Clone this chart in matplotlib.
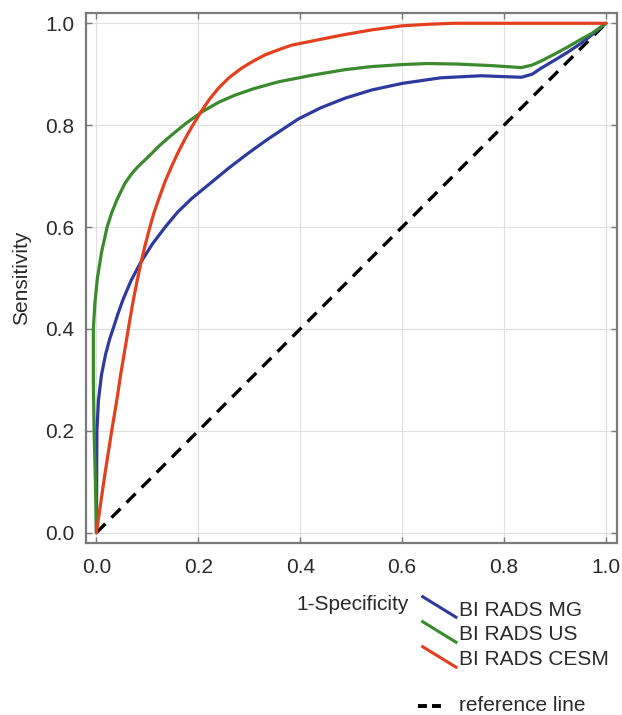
import matplotlib
matplotlib.use("Agg")
import matplotlib.pyplot as plt
from matplotlib.lines import Line2D

plt.rcParams['font.family'] = ['Liberation Sans', 'DejaVu Sans']

# ---- data ----
mg_x = [0.0, 0.0005, 0.001, 0.004, 0.010, 0.018, 0.026, 0.033, 0.042, 0.052, 0.068,
        0.086, 0.110, 0.135, 0.160, 0.187, 0.226, 0.260, 0.298, 0.337, 0.396, 0.440,
        0.488, 0.540, 0.600, 0.676, 0.755, 0.807, 0.834, 0.855, 0.873, 0.900, 0.926,
        0.950, 0.972, 1.0]
mg_y = [0.0, 0.10, 0.20, 0.26, 0.31, 0.35, 0.38, 0.401, 0.429, 0.457, 0.495,
        0.529, 0.567, 0.600, 0.630, 0.656, 0.688, 0.716, 0.745, 0.773, 0.812, 0.834,
        0.853, 0.869, 0.882, 0.893, 0.897, 0.895, 0.894, 0.900, 0.912, 0.928, 0.944,
        0.960, 0.977, 1.0]

us_x = [0.0, -0.002, -0.0045, -0.006, -0.006, -0.003, 0.002, 0.010, 0.021, 0.030,
        0.040, 0.056, 0.068, 0.080, 0.105, 0.125, 0.148, 0.175, 0.207, 0.240, 0.272,
        0.310, 0.357, 0.423, 0.488, 0.540, 0.600, 0.650, 0.708, 0.774, 0.834, 0.855,
        0.873, 0.900, 0.926, 0.950, 0.972, 1.0]
us_y = [0.0, 0.10, 0.20, 0.30, 0.40, 0.45, 0.50, 0.55, 0.60, 0.628,
        0.653, 0.686, 0.703, 0.717, 0.741, 0.761, 0.781, 0.803, 0.826, 0.845, 0.859,
        0.872, 0.885, 0.898, 0.909, 0.915, 0.919, 0.921, 0.920, 0.917, 0.913, 0.918,
        0.926, 0.940, 0.954, 0.968, 0.980, 1.0]

cesm_x = [0.0, 0.017, 0.030, 0.040, 0.048, 0.059, 0.066, 0.0725, 0.080, 0.0875,
          0.095, 0.105, 0.113, 0.1216, 0.135, 0.148, 0.160, 0.175, 0.188, 0.205,
          0.222, 0.239, 0.260, 0.285, 0.310, 0.331, 0.360, 0.383, 0.435, 0.488,
          0.540, 0.600, 0.650, 0.700, 0.800, 0.900, 1.0]
cesm_y = [0.0, 0.117, 0.20, 0.26, 0.313, 0.378, 0.42, 0.457, 0.495, 0.530,
          0.562, 0.600, 0.628, 0.653, 0.690, 0.720, 0.746, 0.775, 0.798, 0.826,
          0.851, 0.872, 0.893, 0.912, 0.927, 0.938, 0.949, 0.957, 0.9675, 0.978,
          0.987, 0.995, 0.998, 1.0, 1.0, 1.0, 1.0]

ref_x = [0.0, 1.0]
ref_y = [0.0, 1.0]

ticks = [0.0, 0.2, 0.4, 0.6, 0.8, 1.0]
tick_labels = ["0.0", "0.2", "0.4", "0.6", "0.8", "1.0"]

series_names = ["BI RADS MG", "BI RADS US", "BI RADS CESM"]
series_colors = ["#2E3A9E", "#3C8A2E", "#E2401E"]
ref_name = "reference line"
x_label = "1-Specificity"
y_label = "Sensitivity"

# ---- figure ----
W, H = 622, 715
fig = plt.figure(figsize=(W / 100, H / 100), dpi=100)
fig.patch.set_facecolor("white")

def fx(px):
    return px / W

def fy(py):
    return 1 - py / H

left, right, top, bottom = 85.7, 617.0, 13.3, 542.7
ax = fig.add_axes([fx(left), fy(bottom), fx(right - left), (bottom - top) / H])

txt_color = "#2a2a2a"
lw = 2.3
for xs, ys, c in zip([mg_x, us_x, cesm_x], [mg_y, us_y, cesm_y], series_colors):
    ax.plot(xs, ys, color=c, lw=lw, solid_joinstyle="round", solid_capstyle="round", zorder=3)
ax.plot(ref_x, ref_y, color="black", lw=2.4, dashes=(3.8, 2.6), zorder=2)

ax.set_xlim(-0.021, 1.0216)
ax.set_ylim(-0.0196, 1.0196)
ax.set_xticks(ticks)
ax.set_yticks(ticks)
ax.set_xticklabels(tick_labels)
ax.set_yticklabels(tick_labels)
ax.grid(True, color="#e0e0e0", lw=0.9, zorder=0)
ax.set_axisbelow(True)
for s in ax.spines.values():
    s.set_color("#7a7a7a")
    s.set_linewidth(1.6)
ax.tick_params(axis="both", direction="in", length=4, width=1.0, color="#7a7a7a",
               top=True, right=True, labelsize=15, labelcolor=txt_color)
ax.tick_params(axis="x", pad=11)
ax.tick_params(axis="y", pad=8)

# y label
fig.text(fx(22), fy(277.5), y_label, rotation=90, ha="center", va="center",
         fontsize=15, color=txt_color)

# x label (placed at the legend row, as in the reference)
fig.text(fx(408.5), fy(610), x_label, ha="right", va="baseline",
         fontsize=15, color=txt_color)

# legend entries (diagonal line samples)
line_y0 = [596.7, 621.7, 646.7]
text_base = [615.7, 640, 665]
for name, c, y0, tb in zip(series_names, series_colors, line_y0, text_base):
    fig.add_artist(Line2D([fx(422.7), fx(456)], [fy(y0), fy(y0 + 20.5)],
                          color=c, lw=2.2, transform=fig.transFigure))
    fig.text(fx(459), fy(tb), name, ha="left", va="baseline",
             fontsize=15, color=txt_color)

fig.add_artist(Line2D([fx(417.7), fx(440.5)], [fy(705.5), fy(705.5)],
                      color="black", lw=2.8, dashes=(2.3, 1.3),
                      transform=fig.transFigure))
fig.text(fx(459), fy(711), ref_name, ha="left", va="baseline",
         fontsize=15, color=txt_color)

fig.savefig("out.png", dpi=100, facecolor="white")
